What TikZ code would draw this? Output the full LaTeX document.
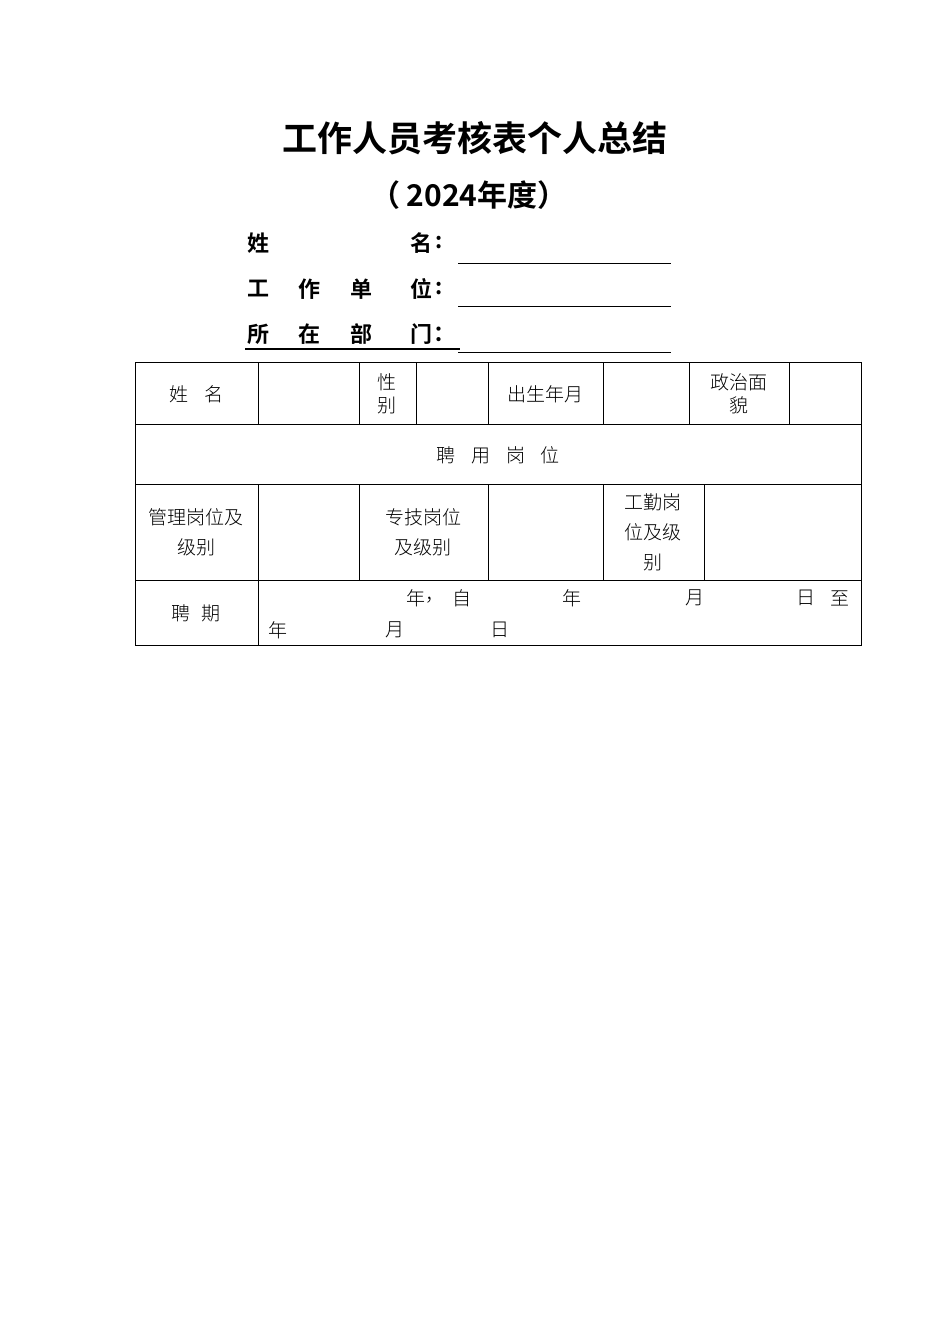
\documentclass[tikz,border=0pt]{standalone}
\usepackage{fontspec}
\newfontfamily\hei{Noto Sans CJK SC Bold}
\newfontfamily\song{Noto Sans CJK SC Light}
\begin{document}
\begin{tikzpicture}[x=1pt,y=-1pt,
  t/.style={font=\song\fontsize{19}{23}\selectfont,inner sep=0pt},
  h/.style={font=\hei\fontsize{22}{26}\selectfont,inner sep=0pt},
  ln/.style={line width=0.8pt}]
\useasboundingbox[fill=white] (0,0) rectangle (950,1344);
\node[font=\hei\fontsize{35}{40}\selectfont] (title) at (475,138) {工作人员考核表个人总结};
\node[font=\hei\fontsize{30}{36}\selectfont] (year) at (469,195) {（\hspace{6pt}2024年度）};
% fields
\node[h] (a1) at (258,243) {姓};
\node[h] (a2) at (421,243) {名};
\node[h] (b1) at (258,289) {工};
\node[h] (b2) at (309,289) {作};
\node[h] (b3) at (361,289) {单};
\node[h] (b4) at (421,289) {位};
\node[h] (c1) at (258,334) {所};
\node[h] (c2) at (309,334) {在};
\node[h] (c3) at (361,334) {部};
\node[h] (c4) at (421,334) {门};
\node[h,anchor=west] (a3) at (435,243) {:};
\node[h,anchor=west] (b5) at (435,289) {:};
\node[h,anchor=west] (c5) at (433,334) {：};
\coordinate (u1a) at (458,263); \coordinate (u1b) at (671,263);
\coordinate (u2a) at (458,306); \coordinate (u2b) at (671,306);
\coordinate (u3a) at (245,349); \coordinate (u3b) at (460,349);
\coordinate (u4a) at (458,352); \coordinate (u4b) at (671,352);
\draw[line width=0.6pt] (u1a)--(u1b); \draw[line width=0.6pt] (u2a)--(u2b);
\draw[line width=1.2pt] (u3a)--(u3b); \draw[line width=0.6pt] (u4a)--(u4b);
% table
\draw[ln] (135,362) rectangle (861,645);
\draw[ln] (135,424)--(861,424) (135,484)--(861,484) (135,580)--(861,580);
\foreach \x in {258,359,416,488,603,689,789} \draw[ln] (\x,362)--(\x,424);
\foreach \x in {258,359,488,603,704} \draw[ln] (\x,484)--(\x,580);
\draw[ln] (258,580)--(258,645);
\node[t] (n1) at (196,394) {姓\hspace{16pt}名};
\node[t,align=center] (n2) at (387,394) {性\\别};
\node[t] (n3) at (545,394) {出生年月};
\node[t,align=center] (n4) at (739,394) {政治面\\貌};
\node[t] (n5) at (498,455) {聘\hspace{16pt}用\hspace{16pt}岗\hspace{16pt}位};
\node[t,align=center,font=\song\fontsize{19}{30}\selectfont] (n6) at (196,532) {管理岗位及\\级别};
\node[t,align=center,font=\song\fontsize{19}{30}\selectfont] (n7) at (423,532) {专技岗位\\及级别};
\node[t,align=center,font=\song\fontsize{19}{30}\selectfont] (n8) at (653,532) {工勤岗\\位及级\\别};
\node[t] (n9) at (196,613) {聘\hspace{12pt}期};
\node[t] (p1) at (416,598) {年};
\node[t] (p2) at (435,600) {，};
\node[t] (p3) at (462,598) {自};
\node[t] (p4) at (572,598) {年};
\node[t] (p5) at (695,598) {月};
\node[t] (p6) at (806,598) {日};
\node[t] (p7) at (840,598) {至};
\node[t] (q1) at (278,630) {年};
\node[t] (q2) at (395,630) {月};
\node[t] (q3) at (500,630) {日};
\end{tikzpicture}
\end{document}
